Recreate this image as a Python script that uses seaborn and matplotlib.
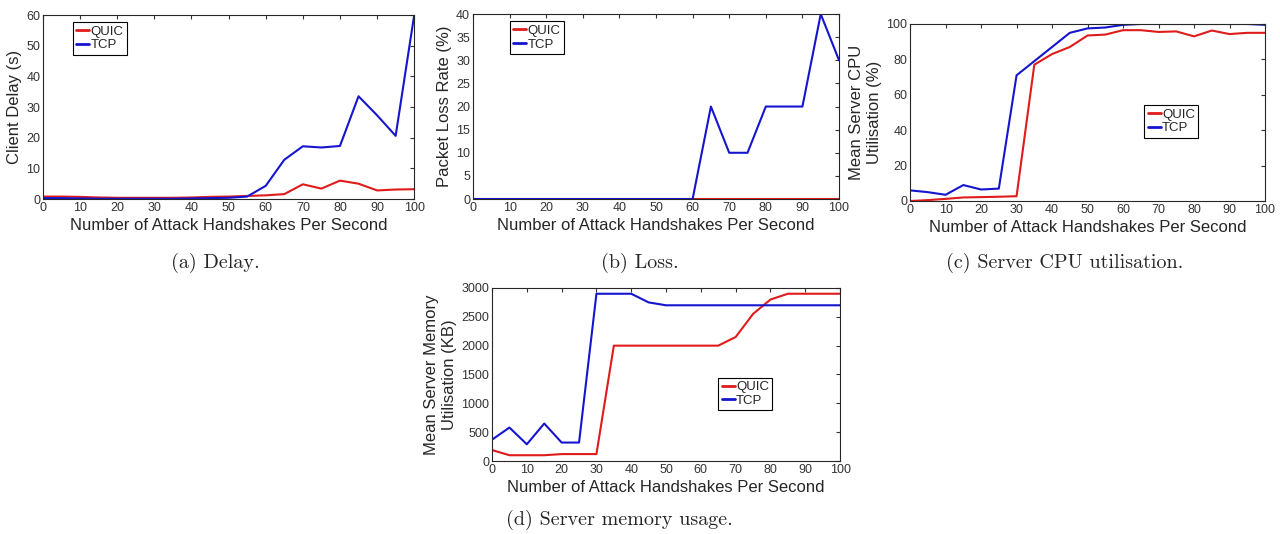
import numpy as np
import pandas as pd
import matplotlib
matplotlib.use("Agg")
import matplotlib.pyplot as plt
import seaborn as sns

# attack rate (handshakes per second)
rate = list(range(0, 101, 5))

delay_quic = [0.8, 0.8, 0.7, 0.5, 0.4, 0.4, 0.4, 0.4, 0.5, 0.7, 0.8,
              1.0, 1.2, 1.6, 4.8, 3.4, 6.0, 5.0, 2.8, 3.1, 3.2]
delay_tcp = [0.3, 0.3, 0.2, 0.1, 0.1, 0.1, 0.1, 0.1, 0.2, 0.3, 0.4,
             0.8, 4.3, 12.8, 17.2, 16.8, 17.3, 33.5, 27.3, 20.6, 60.0]

loss_quic = [0] * 21
loss_tcp = [0, 0, 0, 0, 0, 0, 0, 0, 0, 0, 0, 0, 0,
            20, 10, 10, 20, 20, 20, 40, 30]

cpu_quic = [0.0, 0.5, 1.2, 2.0, 2.2, 2.4, 2.7, 77, 83, 87, 93.5,
            94, 96.5, 96.5, 95.5, 95.8, 93, 96.3, 94.3, 95, 95]
cpu_tcp = [6, 5, 3.5, 9, 6.5, 7, 71, 79, 87, 95, 97.5,
           98, 99.5, 100, 100, 100, 100, 100, 100, 100, 99.5]

mem_quic = [190, 100, 100, 100, 120, 120, 120, 2000, 2000, 2000, 2000,
            2000, 2000, 2000, 2150, 2550, 2800, 2900, 2900, 2900, 2900]
mem_tcp = [370, 580, 290, 650, 320, 320, 2900, 2900, 2900, 2750, 2700,
           2700, 2700, 2700, 2700, 2700, 2700, 2700, 2700, 2700, 2700]


def to_long(quic, tcp):
    return pd.DataFrame({
        "rate": rate + rate,
        "value": quic + tcp,
        "proto": ["QUIC"] * len(rate) + ["TCP"] * len(rate),
    })


sns.set_style("white")
plt.rcParams["font.family"] = ["Liberation Sans", "DejaVu Sans"]

palette = {"QUIC": "#e01b1b", "TCP": "#1515d0"}

fig = plt.figure(figsize=(12.8, 5.34), dpi=100)

panels = [
    # axes rect, data, ylim, yticks, ylabel, legend loc, caption, caption pos
    ([0.0336, 0.6273, 0.290, 0.3446], (delay_quic, delay_tcp), 60, np.arange(0, 61, 10),
     "Client Delay (s)", (0.08, 0.96), "(a) Delay.", (0.168, 0.488)),
    ([0.3695, 0.6273, 0.286, 0.3464], (loss_quic, loss_tcp), 40, np.arange(0, 41, 5),
     "Packet Loss Rate (%)", (0.10, 0.96), "(b) Loss.", (0.50, 0.488)),
    ([0.711, 0.6236, 0.2773, 0.3315], (cpu_quic, cpu_tcp), 100, np.arange(0, 101, 20),
     "Mean Server CPU\nUtilisation (%)", (0.66, 0.54), "(c) Server CPU utilisation.", (0.832, 0.488)),
    ([0.3844, 0.1367, 0.2719, 0.324], (mem_quic, mem_tcp), 3000, np.arange(0, 3001, 500),
     "Mean Server Memory\nUtilisation (KB)", (0.65, 0.48), "(d) Server memory usage.", (0.484, 0.008)),
]

for rect, (q, t), ymax, yticks, ylabel, leg_pos, caption, cap_pos in panels:
    ax = fig.add_axes(rect)
    sns.lineplot(data=to_long(q, t), x="rate", y="value", hue="proto",
                 palette=palette, linewidth=1.5, ax=ax)
    ax.set_xlim(0, 100)
    ax.set_ylim(0, ymax)
    ax.set_xticks(np.arange(0, 101, 10))
    ax.set_yticks(yticks)
    ax.tick_params(direction="in", length=3, width=0.8, labelsize=9,
                   colors="#333333", pad=2, top=True, right=True)
    for s in ax.spines.values():
        s.set_color("#262626")
        s.set_linewidth(0.8)
    ax.set_xlabel("Number of Attack Handshakes Per Second", fontsize=12, labelpad=3)
    ax.set_ylabel(ylabel, fontsize=12, labelpad=3, linespacing=1.25)
    leg = ax.legend(loc="upper left", bbox_to_anchor=leg_pos, fontsize=9.5,
                    handlelength=1.0, handletextpad=0.1, borderpad=0.25,
                    labelspacing=0.1, fancybox=False, framealpha=1,
                    edgecolor="black", borderaxespad=0)
    leg.get_frame().set_linewidth(0.8)
    for line in leg.get_lines():
        line.set_linewidth(2)
    fig.text(cap_pos[0], cap_pos[1], caption, ha="center", va="bottom",
             fontsize=14.5, family=["cmr10", "DejaVu Serif"])

fig.savefig("out.png", dpi=100)
